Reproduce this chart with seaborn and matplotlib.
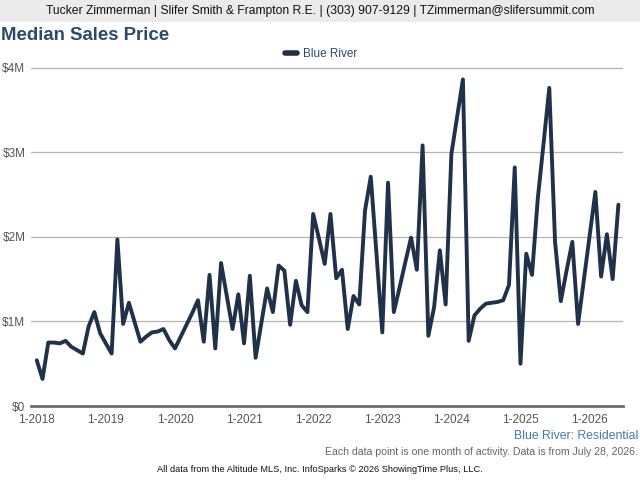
import numpy as np
import pandas as pd
import matplotlib; matplotlib.use("Agg")
import matplotlib.pyplot as plt
import matplotlib.patches as mpatches
import seaborn as sns
from matplotlib.ticker import FuncFormatter

# ─── Data (median sales price, $M, one point per month from 1-2018) ───
START_YEAR = 2018
PRICE_M = [
    0.54, 0.32, 0.75, 0.75, 0.74, 0.77, 0.70, 0.66, 0.62, 0.94, 1.11, 0.86,   # 2018
    0.74, 0.62, 1.97, 0.97, 1.22, 0.99, 0.76, 0.82, 0.87, 0.88, 0.91, 0.78,   # 2019
    0.68, 0.82, 0.96, 1.10, 1.25, 0.76, 1.55, 0.68, 1.69, 1.30, 0.91, 1.32,   # 2020
    0.74, 1.54, 0.57, 0.98, 1.39, 1.11, 1.66, 1.60, 0.96, 1.48, 1.19, 1.11,   # 2021
    2.27, 1.98, 1.68, 2.27, 1.51, 1.61, 0.91, 1.30, 1.20, 2.31, 2.71, 1.79,   # 2022
    0.87, 2.64, 1.11, 1.40, 1.70, 1.99, 1.61, 3.08, 0.83, 1.17, 1.84, 1.20,   # 2023
    2.98, 3.42, 3.86, 0.77, 1.07, 1.15, 1.21, 1.22, 1.23, 1.25, 1.43, 2.82,   # 2024
    0.50, 1.80, 1.55, 2.45, 3.10, 3.76, 1.94, 1.24, 1.60, 1.94, 0.97, 1.49,   # 2025
    2.01, 2.53, 1.53, 2.03, 1.50, 2.38,                                       # 2026
]
YEAR_TICKS = [f"1-{y}" for y in range(2018, 2027)]
SERIES = "Blue River"

df = pd.DataFrame({"month": np.arange(len(PRICE_M)),
                   "price": np.array(PRICE_M) * 1e6})

# ─── Style ──────────────────────────────────────────────────
sns.set_style("white")
plt.rcParams["font.family"] = ["Liberation Sans", "DejaVu Sans"]

LINE_C  = "#1f3249"
TITLE_C = "#2b4a6b"
GRID_C  = "#b4b4b4"
TICK_C  = "#555555"

fig = plt.figure(figsize=(6.4, 4.8), dpi=100)
ax = fig.add_axes([31/640, 1 - 406/480, (623 - 31)/640, (406 - 62)/480])

sns.lineplot(data=df, x="month", y="price", ax=ax, color=LINE_C,
             linewidth=2.8, legend=False)

ax.set_xlim(-1.0, 101.8)
ax.set_ylim(0, 4.066e6)
ax.set_yticks([0, 1e6, 2e6, 3e6, 4e6])
ax.yaxis.set_major_formatter(FuncFormatter(lambda v, _: "$0" if v == 0 else f"${v/1e6:.0f}M"))
ax.set_xticks(np.arange(0, 12 * len(YEAR_TICKS), 12))
ax.set_xticklabels(YEAR_TICKS)
ax.set_xlabel(""); ax.set_ylabel("")

ax.grid(axis="y", color=GRID_C, linewidth=0.9)
ax.set_axisbelow(True)
for s in ["top", "right", "left"]:
    ax.spines[s].set_visible(False)
ax.spines["bottom"].set_color("#6e6e6e")
ax.spines["bottom"].set_linewidth(2.0)
ax.tick_params(axis="x", direction="out", length=5, width=1.2, color="#6e6e6e",
               labelsize=8.5, labelcolor=TICK_C, pad=1)
ax.tick_params(axis="y", length=0, labelsize=8.5, labelcolor=TICK_C, pad=4)

# ─── Header, title, legend, footer ──────────────────────────
fig.patches.append(mpatches.Rectangle((0, 1 - 22/480), 1, 22/480, transform=fig.transFigure,
                                      facecolor="#ebebeb", edgecolor="none", zorder=0))
fig.text(0.5, 1 - 11/480,
         "Tucker Zimmerman | Slifer Smith & Frampton R.E. | (303) 907-9129 | TZimmerman@slifersummit.com",
         ha="center", va="center", fontsize=8.7, color="#111111")
fig.text(1/640, 1 - 35/480, "Median Sales Price", ha="left", va="center",
         fontsize=13.4, fontweight="bold", color=TITLE_C)

handle = plt.Line2D([], [], color=LINE_C, linewidth=4)
fig.legend([handle], [SERIES], loc="center", bbox_to_anchor=(321/640, 1 - 54/480),
           frameon=False, fontsize=8.5, labelcolor=TITLE_C, handlelength=1.0,
           handletextpad=0.5)

fig.text(638/640, 1 - 436/480, "Blue River: Residential", ha="right", va="center",
         fontsize=8.8, color="#4a78aa")
fig.text(638/640, 1 - 452/480,
         "Each data point is one month of activity. Data is from July 28, 2026.",
         ha="right", va="center", fontsize=7.6, color="#666666")
fig.text(0.5, 1 - 469/480,
         "All data from the Altitude MLS, Inc. InfoSparks © 2026 ShowingTime Plus, LLC.",
         ha="center", va="center", fontsize=6.7, color="#111111")

fig.savefig("out.png", dpi=100)
